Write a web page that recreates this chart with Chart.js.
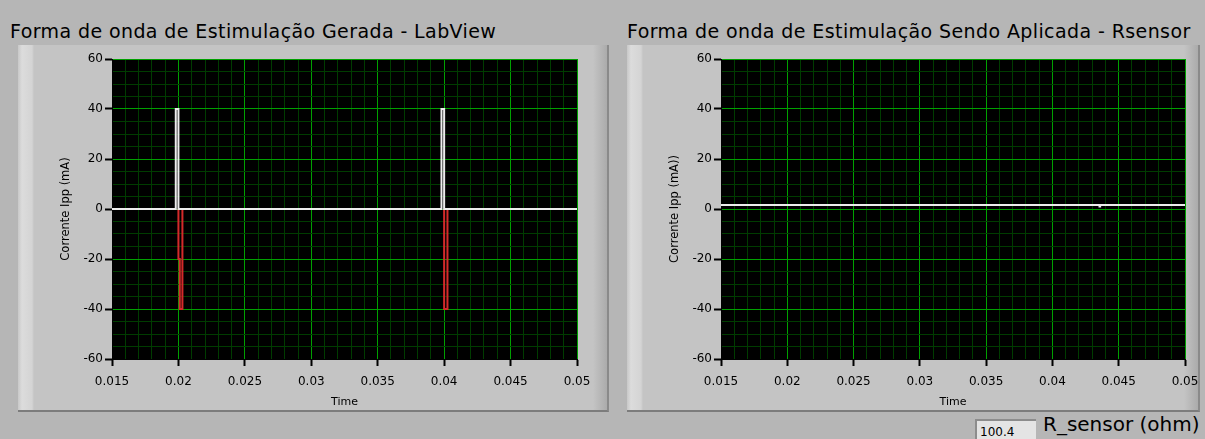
<!DOCTYPE html>
<html lang="pt">
<head>
  <meta charset="UTF-8">
  <title>Forma de onda de Estimulação</title>
  <script src="https://cdn.jsdelivr.net/npm/chart.js"></script>
  <style>
    body {
      margin: 0;
      width: 1205px;
      height: 439px;
      background: #b6b6b6;
      font-family: "DejaVu Sans", sans-serif;
      position: relative;
      overflow: hidden;
    }
    .titulo {
      position: absolute;
      top: 20px;
      font-size: 19px;
      letter-spacing: 0.4px;
      color: #000;
      white-space: nowrap;
    }
    .painel {
      position: absolute;
      top: 45px;
      height: 367px;
      box-sizing: border-box;
      border-bottom: 2px solid #7c7c7c;
      border-right: 2px solid #8a8a8a;
      background: linear-gradient(to right, #c8c8c8 0px, #dcdcdc 4px, #d4d4d4 14px, #c4c4c4 16px, #c4c4c4 calc(100% - 14px), #ababab 100%);
    }
    .painel canvas {
      position: absolute;
      left: 0;
      top: 0;
    }
    #caixa-r {
      position: absolute;
      left: 975px;
      top: 419px;
      width: 61px;
      height: 22px;
      box-sizing: border-box;
      background: #e4e4e4;
      border-top: 2px solid #8c8c8c;
      border-left: 2px solid #8c8c8c;
      font-size: 12px;
      padding: 4px 0 0 3px;
    }
    #rotulo-r {
      position: absolute;
      left: 1043px;
      top: 412px;
      font-size: 20px;
      white-space: nowrap;
    }
  </style>
</head>
<body>
  <div class="titulo" style="left:10px;">Forma de onda de Estimulação Gerada - LabView</div>
  <div class="titulo" style="left:627px;">Forma de onda de Estimulação Sendo Aplicada - Rsensor</div>

  <div class="painel" style="left:18px; width:591px;">
    <canvas id="graficoGerado" width="591" height="365"></canvas>
  </div>
  <div class="painel" style="left:627px; width:573px;">
    <canvas id="graficoAplicado" width="573" height="365"></canvas>
  </div>

  <div id="caixa-r">100.4</div>
  <div id="rotulo-r">R_sensor (ohm)</div>

  <script>
    // eixos
    const xMin = 0.015, xMax = 0.05;
    const xMajor = [0.015, 0.02, 0.025, 0.03, 0.035, 0.04, 0.045, 0.05];
    const yMajor = [-60, -40, -20, 0, 20, 40, 60];

    // LabView: pulso positivo (branco)
    const geradoBrancoT = [0.015, 0.0198, 0.0198, 0.02, 0.02, 0.0398, 0.0398, 0.04, 0.04, 0.05];
    const geradoBrancoI = [0, 0, 40, 40, 0, 0, 40, 40, 0, 0];
    // LabView: pulso negativo (vermelho)
    const geradoVermelho1T = [0.02, 0.02, 0.0201, 0.0201, 0.0203, 0.0203];
    const geradoVermelho1I = [0, -20, -20, -40, -40, 0];
    const geradoVermelho2T = [0.04, 0.04, 0.04025, 0.04025];
    const geradoVermelho2I = [0, -40, -40, 0];

    // Rsensor
    const aplicadoT = [0.015, 0.04355, 0.04355, 0.0436, 0.0436, 0.05];
    const aplicadoI = [1.6, 1.6, 1.0, 1.0, 1.6, 1.6];

    const pontos = (t, i) => t.map((v, k) => ({ x: v, y: i[k] }));

    // grade menor: 0.001 no x, 5 no y
    const xTicks = [];
    for (let k = 0; k <= 35; k++) xTicks.push(+(xMin + k * 0.001).toFixed(4));
    const yTicks = [];
    for (let v = -60; v <= 60; v += 5) yTicks.push(v);

    const ehMaiorX = v => xMajor.some(m => Math.abs(m - v) < 1e-7);
    const ehMaiorY = v => yMajor.includes(v);

    const fundoPreto = {
      id: 'fundoPreto',
      beforeDraw(chart) {
        const a = chart.chartArea;
        chart.ctx.save();
        chart.ctx.fillStyle = '#000';
        chart.ctx.fillRect(a.left, a.top, a.right - a.left, a.bottom - a.top);
        chart.ctx.restore();
      }
    };

    Chart.defaults.font.family = '"DejaVu Sans", sans-serif';
    Chart.defaults.color = '#000';

    function criarGrafico(id, datasets, yTitulo, padRight) {
      return new Chart(document.getElementById(id), {
        type: 'scatter',
        data: { datasets },
        plugins: [fundoPreto],
        options: {
          responsive: false,
          animation: false,
          layout: { padding: { left: 41, right: padRight, top: 14, bottom: 0 } },
          plugins: { legend: { display: false }, tooltip: { enabled: false } },
          elements: { point: { radius: 0 }, line: { tension: 0 } },
          scales: {
            x: {
              type: 'linear',
              min: xMin,
              max: xMax,
              afterBuildTicks: s => { s.ticks = xTicks.map(v => ({ value: v })); },
              afterFit: s => { s.height = 51; s.paddingLeft = 0; s.paddingRight = 0; },
              ticks: {
                autoSkip: false,
                maxRotation: 0,
                padding: 9,
                font: { size: 12 },
                callback: v => ehMaiorX(v) ? String(+v.toFixed(3)) : ''
              },
              grid: {
                color: c => (c.tick && ehMaiorX(c.tick.value)) ? '#00a000' : '#003c00',
                tickColor: c => (c.tick && ehMaiorX(c.tick.value)) ? '#000' : 'rgba(0,0,0,0)',
                tickWidth: 2,
                tickLength: 7
              },
              border: { color: '#000' },
              title: { display: true, text: 'Time', font: { size: 11 }, padding: { top: 2, bottom: 1 } }
            },
            y: {
              type: 'linear',
              min: -60,
              max: 60,
              afterBuildTicks: s => { s.ticks = yTicks.map(v => ({ value: v })); },
              afterFit: s => { s.width = 53; s.paddingTop = 0; s.paddingBottom = 0; },
              ticks: {
                autoSkip: false,
                padding: 2,
                font: { size: 12 },
                callback: v => ehMaiorY(v) ? String(v) : ''
              },
              grid: {
                color: c => (c.tick && ehMaiorY(c.tick.value)) ? '#00a000' : '#003c00',
                tickColor: c => (c.tick && ehMaiorY(c.tick.value)) ? '#000' : 'rgba(0,0,0,0)',
                tickWidth: 2,
                tickLength: 7
              },
              border: { color: '#000' },
              title: { display: true, text: yTitulo, font: { size: 11.5 }, padding: 0 }
            }
          }
        }
      });
    }

    criarGrafico('graficoGerado', [
      { data: pontos(geradoBrancoT, geradoBrancoI), showLine: true, borderColor: '#ececec', borderWidth: 2 },
      { data: pontos(geradoVermelho1T, geradoVermelho1I), showLine: true, borderColor: '#d42a2a', borderWidth: 2 },
      { data: pontos(geradoVermelho2T, geradoVermelho2I), showLine: true, borderColor: '#d42a2a', borderWidth: 2 }
    ], 'Corrente Ipp (mA)', 32);

    criarGrafico('graficoAplicado', [
      { data: pontos(aplicadoT, aplicadoI), showLine: true, borderColor: '#ececec', borderWidth: 2 }
    ], 'Corrente Ipp (mA))', 15);
  </script>
</body>
</html>
